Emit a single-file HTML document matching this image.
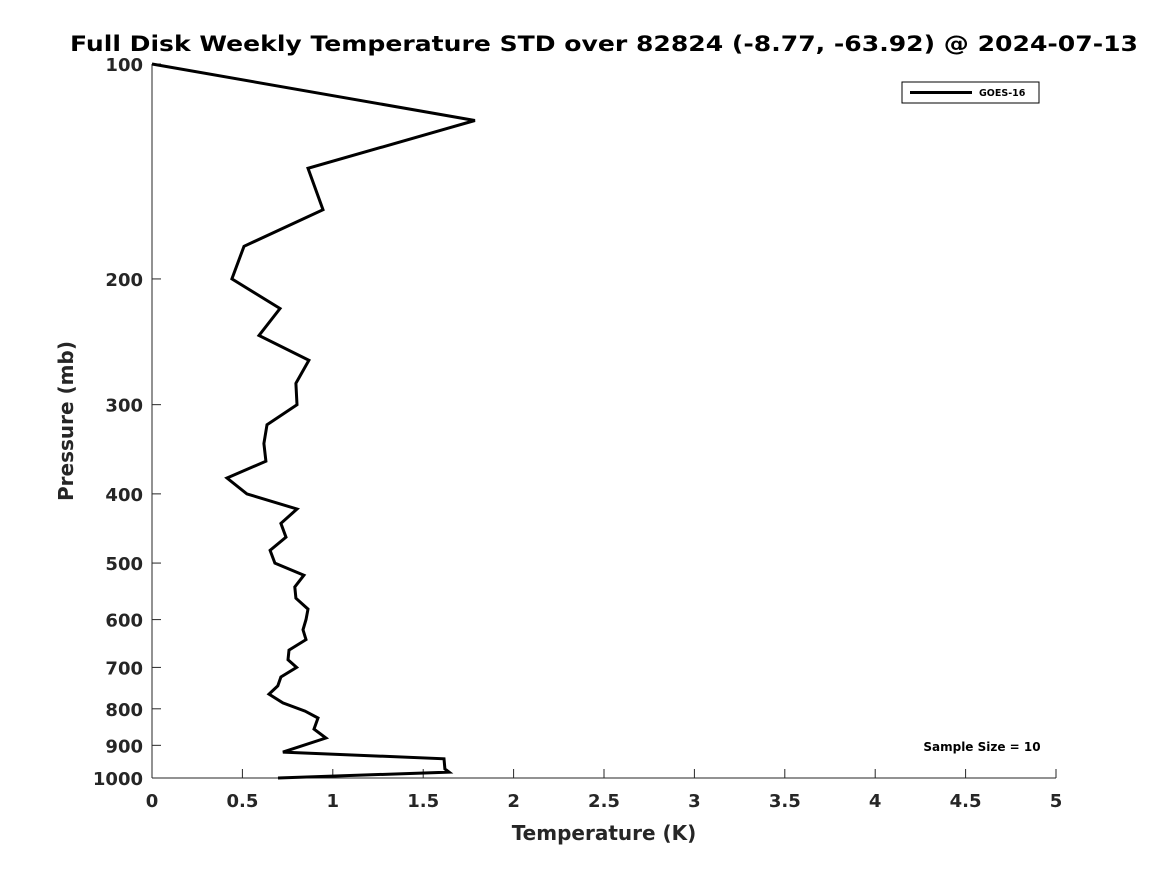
<!DOCTYPE html>
<html><head><meta charset="utf-8"><style>
html,body{margin:0;padding:0;background:#fff;}
svg{display:block;font-family:"DejaVu Sans","Liberation Sans",sans-serif;font-weight:bold;}
</style></head><body>
<svg id="chart" width="1167" height="875" viewBox="0 0 1167 875">
<text x="604" y="51" text-anchor="middle" font-size="21.5" fill="#000" textLength="1068" lengthAdjust="spacingAndGlyphs">Full Disk Weekly Temperature STD over 82824 (-8.77, -63.92) @ 2024-07-13</text>
<g id="axes"></g>
<g id="series"></g>
<text x="604" y="840" text-anchor="middle" font-size="20" fill="#262626">Temperature (K)</text>
<text transform="translate(73,421) rotate(-90)" text-anchor="middle" font-size="20" fill="#262626">Pressure (mb)</text>
<g>
<rect x="902" y="82" width="137" height="21" fill="#fff" stroke="#000" stroke-width="1"/>
<line x1="910" y1="92.5" x2="972" y2="92.5" stroke="#000" stroke-width="3"/>
<text x="979" y="96" font-size="9.5" fill="#000">GOES-16</text>
</g>
<text x="982" y="751" text-anchor="middle" font-size="12" fill="#000">Sample Size = 10</text>
</svg>
<script>
const temps=[0,1.786,0.863,0.946,0.509,0.442,0.708,0.592,0.868,0.796,0.802,0.636,0.619,0.63,0.415,0.525,0.802,0.713,0.741,0.653,0.68,0.84,0.79,0.796,0.863,0.852,0.835,0.852,0.758,0.752,0.8,0.713,0.696,0.647,0.724,0.846,0.918,0.896,0.962,0.724,1.615,1.62,1.643,0.697];
const pressures=[100,120,140,160,180,200,220,240,260,280,300,320,340,360,380,400,420,440,460,480,500,520,540,560,580,600,620,640,662,683,700,722,743,763,785,806,824,854,879,920,940,971,981,1000];
const xTicks=[0,0.5,1,1.5,2,2.5,3,3.5,4,4.5,5];
const xTickLabels=["0","0.5","1","1.5","2","2.5","3","3.5","4","4.5","5"];
const yTicks=[100,200,300,400,500,600,700,800,900,1000];
const yTickLabels=["100","200","300","400","500","600","700","800","900","1000"];
const X0=152,X1=1056,Y0=64,Y1=778;
const xs=v=>X0+(v-0)/(5-0)*(X1-X0);
const ys=p=>Y0+(Math.log10(p)-2)/(1)*(Y1-Y0);
const NS="http://www.w3.org/2000/svg";
const axes=document.getElementById('axes'),series=document.getElementById('series');
function mk(tag,attrs,parent){const e=document.createElementNS(NS,tag);for(const k in attrs)e.setAttribute(k,attrs[k]);parent.appendChild(e);return e;}
let e=mk('line',{x1:X0,y1:Y0,x2:X0,y2:Y1,stroke:'#262626','stroke-width':1},axes);


e=mk('line',{x1:X0,y1:Y1,x2:X1,y2:Y1,stroke:'#262626','stroke-width':1},axes);


xTicks.forEach((v,i)=>{
 const x=xs(v);
 let t=mk('line',{x1:x,y1:Y1,x2:x,y2:Y1-9,stroke:'#262626','stroke-width':1},axes);
 
 
 let l=mk('text',{x:x,y:Y1+29,'text-anchor':'middle','font-size':18,fill:'#262626'},axes);
 l.textContent=xTickLabels[i];
 
 
});
yTicks.forEach((v,i)=>{
 const y=ys(v);
 let t=mk('line',{x1:X0,y1:y,x2:X0+9,y2:y,stroke:'#262626','stroke-width':1},axes);
 
 
 let l=mk('text',{x:X0-9,y:y+7,'text-anchor':'end','font-size':18,fill:'#262626'},axes);
 l.textContent=yTickLabels[i];
 
 
});
const pts=temps.map((t,i)=>xs(t).toFixed(1)+','+ys(pressures[i]).toFixed(1)).join(' ');
let pl=mk('polyline',{points:pts,fill:'none',stroke:'#000','stroke-width':3,'stroke-linejoin':'miter'},series);


</script>
</body></html>
